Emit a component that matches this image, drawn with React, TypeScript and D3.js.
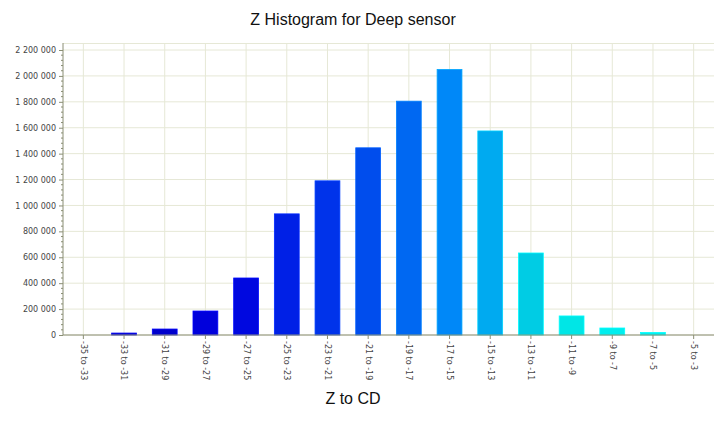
import { useRef, useEffect } from 'react'
import * as d3 from 'd3'

// bins of the histogram
const categories = [
  '-35 to -33', '-33 to -31', '-31 to -29', '-29 to -27', '-27 to -25', '-25 to -23',
  '-23 to -21', '-21 to -19', '-19 to -17', '-17 to -15', '-15 to -13', '-13 to -11',
  '-11 to -9', '-9 to -7', '-7 to -5', '-5 to -3',
]
const counts = [
  0, 15000, 46000, 185000, 440000, 935000, 1190000, 1445000, 1805000, 2050000,
  1575000, 633000, 147000, 54000, 20000, 0,
]
const barColors = [
  '#0000c4', '#0000c8', '#0000cc', '#0000dc', '#0008e0', '#0020e6', '#0033ea', '#004ded',
  '#0068f2', '#0088f8', '#00aaf0', '#00cce4', '#00e6e6', '#00eeee', '#00f0f0', '#00f0f0',
]
const yTicks = [0, 200000, 400000, 600000, 800000, 1000000, 1200000, 1400000, 1600000, 1800000, 2000000, 2200000]

const title = 'Z Histogram for Deep sensor'
const xAxisLabel = 'Z to CD'

const App = () => {
  const svgRef = useRef<SVGSVGElement>(null)

  useEffect(() => {
    const svg = d3.select(svgRef.current)
    svg.selectAll('*').remove()

    const width = 716
    const height = 434
    const margin = { top: 43, right: 2, bottom: 99, left: 63 }
    const innerWidth = width - margin.left - margin.right
    const innerHeight = height - margin.top - margin.bottom

    const g = svg.append('g').attr('transform', `translate(${margin.left},${margin.top})`)

    const xScale = d3
      .scaleBand()
      .domain(categories)
      .range([0, innerWidth])
      .paddingInner(0.39)
      .paddingOuter(0.195)

    const yScale = d3.scaleLinear().domain([0, 2200000]).range([innerHeight, 7])

    // grid
    g.append('g')
      .selectAll('line')
      .data(yTicks)
      .join('line')
      .attr('x1', 0)
      .attr('x2', innerWidth)
      .attr('y1', (d) => yScale(d))
      .attr('y2', (d) => yScale(d))
      .attr('stroke', '#e6e8d6')
    g.append('g')
      .selectAll('line')
      .data(categories)
      .join('line')
      .attr('x1', (d) => xScale(d)! + xScale.bandwidth() / 2)
      .attr('x2', (d) => xScale(d)! + xScale.bandwidth() / 2)
      .attr('y1', 0)
      .attr('y2', innerHeight)
      .attr('stroke', '#e6e8d6')
    g.append('line').attr('x1', 0).attr('x2', innerWidth).attr('y1', 0.5).attr('y2', 0.5).attr('stroke', '#e6e8d6')

    // bars
    g.append('g')
      .selectAll('rect')
      .data(counts)
      .join('rect')
      .attr('x', (_, i) => xScale(categories[i])!)
      .attr('width', xScale.bandwidth())
      .attr('y', (d) => yScale(d))
      .attr('height', (d) => innerHeight - yScale(d))
      .attr('fill', (_, i) => barColors[i])
      .attr('stroke', (_, i) => d3.color(barColors[i])!.brighter(0.6).toString())
      .attr('stroke-width', 0.8)
      .attr('display', (d) => (d > 0 ? null : 'none'))

    // y axis
    const yAxis = d3
      .axisLeft(yScale)
      .tickValues(yTicks)
      .tickSize(4)
      .tickPadding(3)
      .tickFormat((d) => d3.format(',')(d as number).replace(/,/g, ' '))
    const yAxisGroup = g.append('g').call(yAxis)
    yAxisGroup.selectAll('text').attr('font-size', 8).attr('font-family', 'DejaVu Sans').attr('fill', '#444')

    const minor = d3.range(0, 2200001, 40000).filter((v) => v % 200000 !== 0)
    g.append('g')
      .selectAll('line')
      .data(minor)
      .join('line')
      .attr('x1', -2)
      .attr('x2', 0)
      .attr('y1', (d) => yScale(d))
      .attr('y2', (d) => yScale(d))
      .attr('stroke', '#8a8e74')

    // x axis
    const xAxis = d3.axisBottom(xScale).tickSize(4).tickPadding(3)
    const xAxisGroup = g.append('g').attr('transform', `translate(0,${innerHeight})`).call(xAxis)
    xAxisGroup
      .selectAll('text')
      .attr('font-size', 8)
      .attr('font-family', 'DejaVu Sans')
      .attr('fill', '#444')
      .attr('transform', 'rotate(90)')
      .attr('x', 6)
      .attr('y', 0)
      .attr('dy', '0.32em')
      .attr('text-anchor', 'start')

    g.selectAll('.domain, .tick line').attr('stroke', '#8a8e74')
    yAxisGroup.select('.domain').attr('d', `M0,0V${innerHeight}`)
    xAxisGroup.select('.domain').attr('d', `M0,0H${innerWidth}`)

    svg
      .append('text')
      .text(title)
      .attr('x', 353)
      .attr('y', 25)
      .attr('text-anchor', 'middle')
      .attr('font-family', 'Liberation Sans, Arial, sans-serif')
      .attr('font-size', 16)
      .attr('fill', '#111')

    svg
      .append('text')
      .text(xAxisLabel)
      .attr('x', 353)
      .attr('y', 404)
      .attr('text-anchor', 'middle')
      .attr('font-family', 'Liberation Sans, Arial, sans-serif')
      .attr('font-size', 16)
      .attr('fill', '#111')
  }, [])

  return (
    <div style={{ position: 'absolute', left: 0, top: 0 }}>
      <svg width={716} height={434} ref={svgRef}></svg>
    </div>
  )
}

export default App
